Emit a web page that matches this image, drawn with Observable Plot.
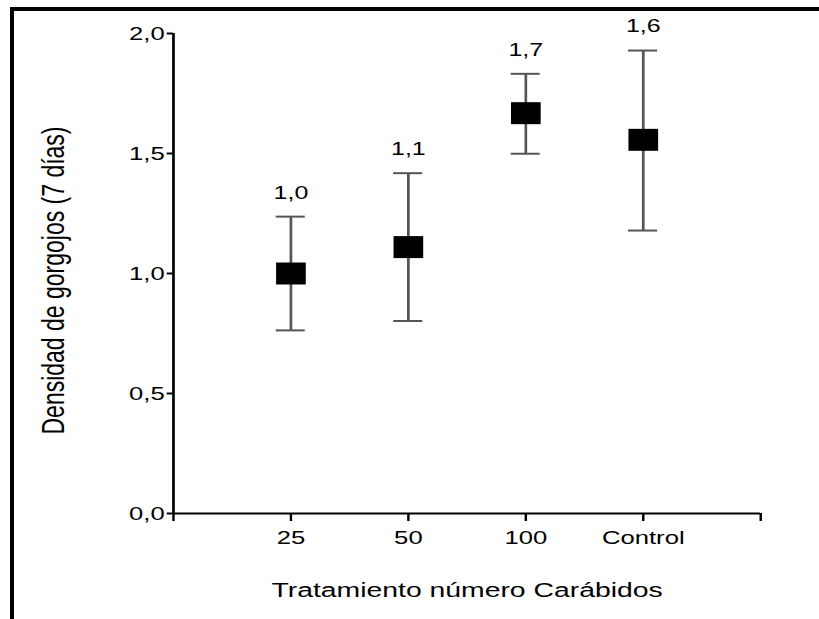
<!DOCTYPE html>
<html><head><meta charset="utf-8">
<script src="https://cdn.jsdelivr.net/npm/d3@7"></script>
<script src="https://cdn.jsdelivr.net/npm/@observablehq/plot@0.6"></script>
<style>
html,body{margin:0;padding:0;background:#fff;overflow:hidden;width:819px;height:619px}
#chart{position:absolute;left:0;top:0;}
#chart svg{transform-origin:0 0;transform:scaleX(1.35);display:block;max-width:none}
#border{position:absolute;left:10px;top:7px;width:900px;height:800px;border-top:4px solid #000;border-left:4px solid #000;pointer-events:none}
</style></head><body>
<div id="chart"></div><div id="border"></div>
<script>
const categories = ["25", "50", "100", "Control"];
const means = [1.0, 1.11, 1.668, 1.557];
const upper = [1.237, 1.418, 1.832, 1.929];
const lower = [0.763, 0.802, 1.499, 1.179];
const valueLabels = ["1,0", "1,1", "1,7", "1,6"];
const yTicks = [0, 0.5, 1, 1.5, 2];
const xTicks = [0, 1, 2, 3, 4, 5];
const xTitle = "Tratamiento número Carábidos";
const yTitle = "Densidad de gorgojos (7 días)";

const data = categories.map((c, k) => ({i: k + 1, c, mean: means[k], hi: upper[k], lo: lower[k], label: valueLabels[k]}));

const S = 1.35;
const W = Math.round(819 / S);
const font = "'Liberation Sans', Arial, Helvetica, sans-serif";

const chart = Plot.plot({
  width: W, height: 619,
  marginLeft: 128, marginRight: W - 563, marginTop: 33, marginBottom: 106,
  style: {fontFamily: font, color: "#000", background: "#fff", overflow: "visible"},
  x: {domain: [0, 5]},
  y: {domain: [0, 2]},
  marks: [
    Plot.ruleX(data, {x: "i", y1: "lo", y2: "hi", stroke: "#555", strokeWidth: 2}),
    Plot.ruleY(data, {x1: "i", x2: "i", y: "hi", insetLeft: -10.75, insetRight: -10.75, stroke: "#555", strokeWidth: 2}),
    Plot.ruleY(data, {x1: "i", x2: "i", y: "lo", insetLeft: -10.75, insetRight: -10.75, stroke: "#555", strokeWidth: 2}),
    Plot.dot(data, {x: "i", y: "mean", symbol: "square", r: 12.4, fill: "#000", stroke: "none"}),
    Plot.text(data, {x: "i", y: "hi", text: "label", dy: -24, fontSize: 18.5, fill: "#000"}),
    Plot.ruleX([0], {y1: 0, y2: 2, stroke: "#000", strokeWidth: 2}),
    Plot.ruleY([0], {x1: 0, x2: 5, stroke: "#000", strokeWidth: 2.2}),
    Plot.axisY({ticks: yTicks, tickFormat: d => d.toFixed(1).replace(".", ","), tickSize: 4.5, tickPadding: 2, fontSize: 19, strokeWidth: 2, label: null}),
    Plot.axisX({ticks: xTicks, tickFormat: i => categories[i - 1] ?? "", tickSize: 8, tickPadding: 9, fontSize: 19, strokeWidth: 1.8, label: null}),
    Plot.text([xTitle], {frameAnchor: "bottom", textAnchor: "middle", lineAnchor: "middle", dy: 76.5, fontSize: 21, fill: "#000"}),
    Plot.text([yTitle], {frameAnchor: "left", textAnchor: "middle", lineAnchor: "middle", rotate: -90, dx: -88.5, dy: 7, fontSize: 23, fill: "#000"})
  ]
});
document.getElementById("chart").appendChild(chart);
</script>
</body></html>
